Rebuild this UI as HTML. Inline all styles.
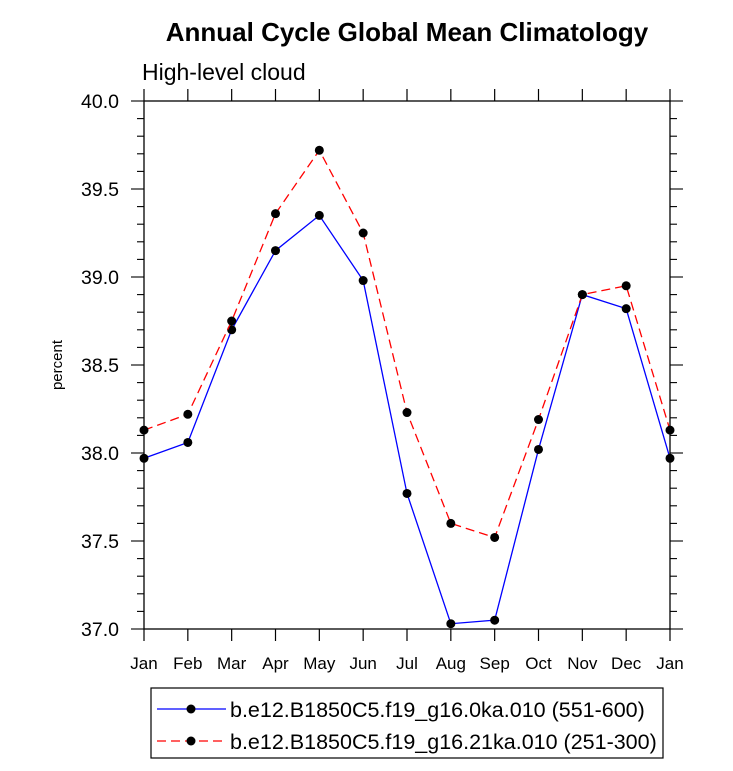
<!DOCTYPE html>
<html><head><meta charset="utf-8"><style>
body{margin:0;background:#fff;}
svg text{font-family:"Liberation Sans",Arial,sans-serif;}
</style></head><body>
<svg id="chart" width="733" height="766" xmlns="http://www.w3.org/2000/svg">
<text x="407" y="41" text-anchor="middle" font-size="26" font-weight="bold">Annual Cycle Global Mean Climatology</text>
<text x="142" y="80" font-size="23">High-level cloud</text>
<text x="62" y="365" font-size="15" text-anchor="middle" transform="rotate(-90 62 365)">percent</text>
<g id="axes"></g>
<g id="series"></g>
<rect x="144" y="101" width="526" height="528" fill="none" stroke="#000" stroke-width="1.3"/>
<g>
<rect x="151" y="688" width="512" height="70" fill="none" stroke="#000" stroke-width="1.2"/>
<g>
<line x1="157" y1="709" x2="226" y2="709" stroke="#00f" stroke-width="1.3"/><circle cx="191" cy="709" r="4.5"/>
<text x="230" y="717" font-size="21.5">b.e12.B1850C5.f19_g16.0ka.010 (551-600)</text></g>
<g>
<line x1="157" y1="741" x2="226" y2="741" stroke="#f00" stroke-width="1.3" stroke-dasharray="9,5"/><circle cx="191" cy="741" r="4.5"/>
<text x="230" y="749" font-size="21.5">b.e12.B1850C5.f19_g16.21ka.010 (251-300)</text></g>
</g>
</svg>
<script>
const months=["Jan","Feb","Mar","Apr","May","Jun","Jul","Aug","Sep","Oct","Nov","Dec","Jan"];
const seriesBlue=[37.97,38.06,38.70,39.15,39.35,38.98,37.77,37.03,37.05,38.02,38.90,38.82,37.97];
const seriesRed=[38.13,38.22,38.75,39.36,39.72,39.25,38.23,37.60,37.52,38.19,38.90,38.95,38.13];
const yTicks=["37.0","37.5","38.0","38.5","39.0","39.5","40.0"];
const X0=144,X1=670,Y0=629,Y1=101,YMIN=37,YMAX=40;
const xs=i=>X0+(X1-X0)*i/(months.length-1);
const ys=v=>Y0-(v-YMIN)/(YMAX-YMIN)*(Y0-Y1);
const NS="http://www.w3.org/2000/svg";
const ax=document.getElementById('axes'),sg=document.getElementById('series');
function mk(t,a,p){const e=document.createElementNS(NS,t);for(const k in a)e.setAttribute(k,a[k]);p.appendChild(e);return e;}
months.forEach((m,i)=>{const x=xs(i);
 let l=mk('line',{x1:x,y1:Y0,x2:x,y2:Y0+12,stroke:'#000','stroke-width':1.2},ax);
 
 
 l=mk('line',{x1:x,y1:Y1,x2:x,y2:Y1-12,stroke:'#000','stroke-width':1.2},ax);
 
 
 const t=mk('text',{x:x,y:Y0+40,'text-anchor':'middle','font-size':17},ax);t.textContent=m;
 
 
});
for(let k=0;k<=30;k++){const v=YMIN+k*0.1,y=ys(v),maj=k%5===0,len=maj?13:7;
 [[X0,X0-len],[X1,X1+len]].forEach(p=>{const l=mk('line',{x1:p[0],y1:y,x2:p[1],y2:y,stroke:'#000','stroke-width':1.1},ax);
 
 });
}
yTicks.forEach(s=>{const t=mk('text',{x:X0-25,y:ys(parseFloat(s))+7,'text-anchor':'end','font-size':19.5},ax);t.textContent=s;
 
 });
function draw(vals,color,dash,name){
 const pl=mk('polyline',{points:vals.map((v,i)=>xs(i)+','+ys(v)).join(' '),fill:'none',stroke:color,'stroke-width':1.3,'stroke-dasharray':dash},sg);
 
 
 vals.forEach((v,i)=>{const c=mk('circle',{cx:xs(i),cy:ys(v),r:4.5,fill:'#000'},sg);
 
 });
}
draw(seriesBlue,'#00f','none','series-0ka');
draw(seriesRed,'#f00','9,5','series-21ka');
</script>
</body></html>
